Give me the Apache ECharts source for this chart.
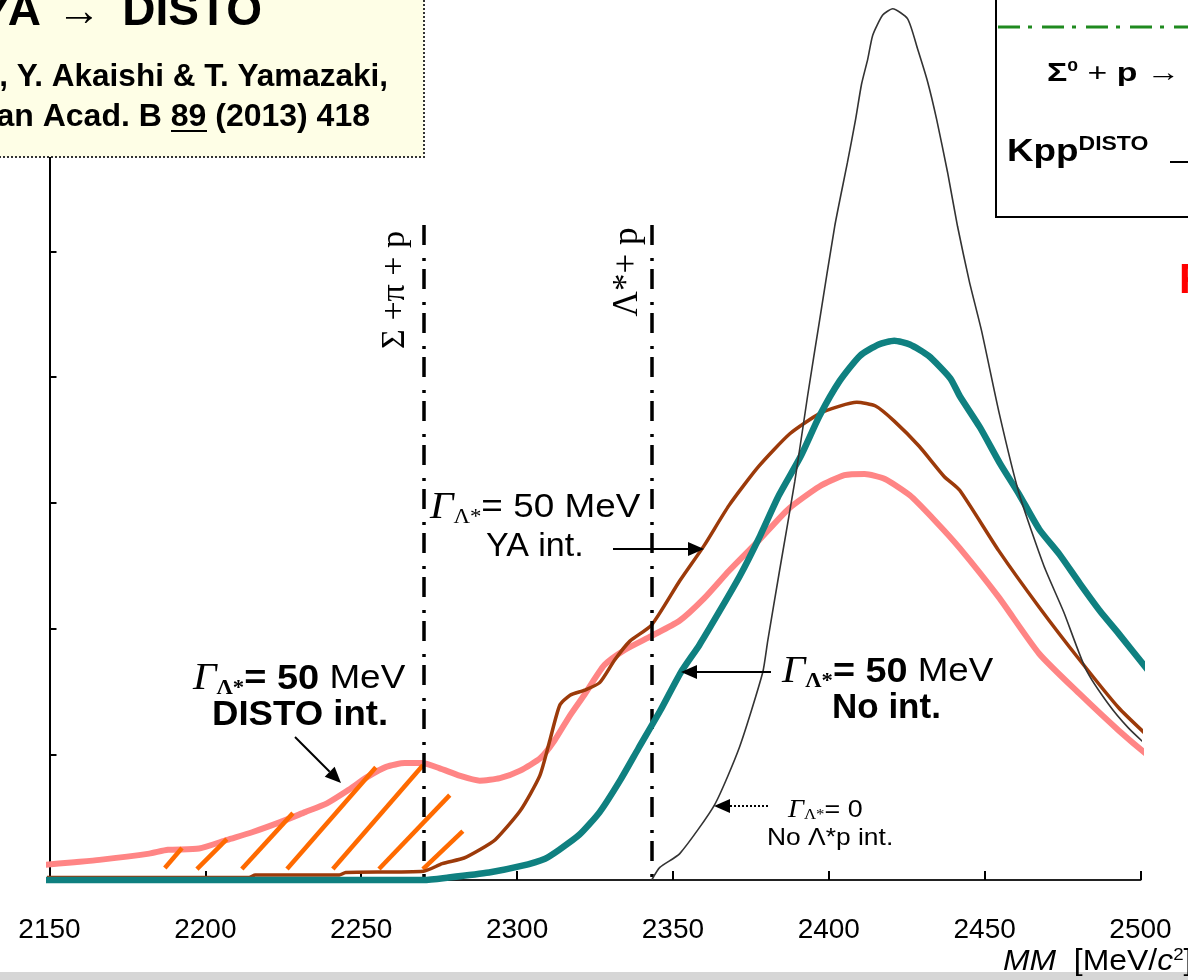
<!DOCTYPE html>
<html>
<head>
<meta charset="utf-8">
<script src="https://cdn.jsdelivr.net/npm/echarts@6/dist/echarts.min.js"></script>
<style>
  html, body { margin: 0; padding: 0; background: #ffffff; }
  #chart { width: 1188px; height: 980px; }
</style>
</head>
<body>
<div id="chart"></div>
<script>
// Missing-mass axis (MeV/c^2)
const massMin = 2150;
const massMax = 2500;
const massStep = 50;

// Spectra: [missing mass, yield (arb. units)]
// Gamma(Lambda*) = 50 MeV, DISTO interaction
const distoIntCurve = [
  [2148.5, 0.12], [2157, 0.14], [2166, 0.16], [2182, 0.21], [2188, 0.24], [2198, 0.25],
  [2207, 0.32], [2215, 0.38], [2224, 0.46], [2232, 0.54], [2239, 0.61], [2245.5, 0.71],
  [2252, 0.82], [2258, 0.90], [2264, 0.93], [2269.5, 0.93], [2275, 0.89], [2281.5, 0.83],
  [2288, 0.79], [2294.5, 0.81], [2301, 0.87], [2307.5, 0.97], [2312, 1.11], [2317, 1.31],
  [2321.5, 1.47], [2328, 1.71], [2334.5, 1.83], [2343, 1.94], [2352, 2.06], [2360, 2.24],
  [2368, 2.46], [2377.5, 2.70], [2387, 2.95], [2397, 3.13], [2405, 3.22], [2411.5, 3.23],
  [2418, 3.19], [2426, 3.06], [2434, 2.86], [2442, 2.64], [2454.5, 2.25], [2467.5, 1.80],
  [2480.5, 1.48], [2493, 1.19], [2503, 0.98]
];

// Gamma(Lambda*) = 50 MeV, YA interaction
const yaIntCurve = [
  [2148.5, 0.02], [2214, 0.02], [2216, 0.04], [2243, 0.04], [2245, 0.06], [2270, 0.07],
  [2276, 0.13], [2283, 0.175], [2288, 0.24], [2293, 0.32], [2301, 0.55], [2307.3, 0.83],
  [2310.5, 1.11], [2313.7, 1.39], [2317, 1.47], [2321.7, 1.51], [2326.5, 1.57], [2331.3, 1.75],
  [2336.2, 1.90], [2343.2, 2.03], [2352.2, 2.38], [2360, 2.66], [2368, 2.98], [2377.5, 3.29],
  [2387.5, 3.55], [2397, 3.71], [2403.5, 3.77], [2409, 3.80], [2415, 3.77], [2421, 3.65],
  [2429, 3.45], [2437, 3.21], [2442, 3.10], [2454.5, 2.62], [2467.5, 2.17], [2480.5, 1.75],
  [2493, 1.37], [2503, 1.13]
];

// Gamma(Lambda*) = 50 MeV, no interaction
const noIntCurve = [
  [2148.5, 0], [2270, 0], [2278, 0.02], [2291, 0.06], [2301, 0.11], [2309, 0.17],
  [2313.5, 0.24], [2320, 0.36], [2326.5, 0.54], [2333, 0.79], [2339, 1.05], [2346, 1.35],
  [2352.5, 1.65], [2358.5, 1.87], [2365, 2.14], [2371.5, 2.42], [2378, 2.74], [2384, 3.06],
  [2391, 3.37], [2397, 3.69], [2403.5, 3.97], [2410, 4.17], [2416, 4.26], [2421, 4.29],
  [2426, 4.26], [2432, 4.17], [2439, 3.99], [2442, 3.85], [2448.5, 3.60], [2455, 3.31],
  [2461, 3.07], [2467.5, 2.79], [2474, 2.59], [2480.5, 2.36], [2487, 2.14], [2493, 1.96],
  [2503, 1.65]
];

// Gamma(Lambda*) = 0, no Lambda*p interaction
const zeroWidthCurve = [
  [2343.2, 0], [2345.8, 0.10], [2352.2, 0.21], [2363.4, 0.60], [2371.4, 1.06], [2378.8, 1.65],
  [2380.4, 1.90], [2384.2, 2.46], [2389.1, 3.17], [2393.2, 3.85], [2397.1, 4.46], [2401.9, 5.20],
  [2406.0, 5.71], [2408.6, 6.05], [2410.5, 6.33], [2412.5, 6.53], [2414.1, 6.72], [2417.3, 6.88],
  [2420.5, 6.93], [2425.3, 6.85], [2428.5, 6.61], [2431.7, 6.35], [2434.6, 6.05], [2438.1, 5.63],
  [2441.3, 5.20], [2445.1, 4.76], [2449.0, 4.37], [2454.7, 3.71], [2461.1, 3.07], [2469.0, 2.50],
  [2475.4, 2.13], [2482.4, 1.68], [2489.7, 1.40], [2496.1, 1.21], [2502.9, 1.05]
];

// Orange hatching below the DISTO-int. shoulder: [m1, y1, m2, y2]
const hatchSegments = [
  [2187.0, 0.095, 2192.5, 0.254],
  [2197.3, 0.087, 2206.9, 0.325],
  [2211.7, 0.087, 2228.1, 0.532],
  [2226.2, 0.087, 2254.7, 0.897],
  [2240.9, 0.087, 2269.8, 0.913],
  [2255.7, 0.087, 2278.4, 0.675],
  [2269.8, 0.087, 2282.6, 0.389]
];

// Thresholds: Sigma + pi + p and Lambda* + p
const thresholdMasses = [2270, 2343.2];
const thresholdTop = 5.21;

const SANS = 'Liberation Sans, Arial, sans-serif';
const SERIF = 'Liberation Serif, Times New Roman, serif';

function arrow(x1, y1, x2, y2, dotted) {
  const dx = x2 - x1, dy = y2 - y1, L = Math.hypot(dx, dy);
  const ux = dx / L, uy = dy / L, hl = 16, hw = 7;
  const bx = x2 - ux * hl, by = y2 - uy * hl;
  return [
    { type: 'line', z: 120, silent: true,
      shape: { x1: x1, y1: y1, x2: bx, y2: by },
      style: { stroke: '#000', lineWidth: 2, lineDash: dotted ? [2, 2] : null } },
    { type: 'polygon', z: 120, silent: true,
      shape: { points: [[x2, y2], [bx - uy * hw, by + ux * hw], [bx + uy * hw, by - ux * hw]] },
      style: { fill: '#000' } }
  ];
}

const annRich = {
  G: { fontFamily: SERIF, fontStyle: 'italic', fontSize: 38, lineHeight: 40, fill: '#000' },
  s: { fontFamily: SERIF, fontSize: 21, lineHeight: 10, verticalAlign: 'bottom', fill: '#000' },
  sb: { fontFamily: SERIF, fontWeight: 'bold', fontSize: 21, lineHeight: 10, verticalAlign: 'bottom', fill: '#000' },
  t: { fontFamily: SANS, fontSize: 34, lineHeight: 40, fill: '#000' },
  tb: { fontFamily: SANS, fontWeight: 'bold', fontSize: 35, lineHeight: 40, fill: '#000' },
  g: { fontFamily: SERIF, fontStyle: 'italic', fontSize: 25, lineHeight: 26, fill: '#000' },
  ss: { fontFamily: SERIF, fontSize: 15, lineHeight: 6, verticalAlign: 'bottom', fill: '#000' },
  u: { fontFamily: SANS, fontSize: 24, lineHeight: 26, fill: '#000' }
};

function richText(x, y, text, sx) {
  return {
    type: 'text', z: 120, silent: true, x: x, y: y, scaleX: sx || 1,
    style: { text: text, rich: annRich, align: 'left', verticalAlign: 'middle',
             textAlign: 'left', textVerticalAlign: 'middle' }
  };
}

function plainText(x, y, text, font, align, extra) {
  return Object.assign({
    type: 'text', z: 120, silent: true, x: x, y: y,
    style: Object.assign({ text: text, fill: '#000', align: align, verticalAlign: 'middle',
                           textAlign: align, textVerticalAlign: 'middle' }, font)
  }, extra || {});
}

const boldSans = (size) => ({ fontFamily: SANS, fontWeight: 'bold', fontSize: size });

const graphics = [
  // reference box, top left
  { type: 'rect', z: 110, silent: true, shape: { x: -6, y: -6, width: 430, height: 163 },
    style: { fill: '#fefee6', stroke: '#333', lineWidth: 2, lineDash: [2, 2] } },
  plainText(41, 12, 'YA', boldSans(46), 'right'),
  plainText(79, 13, '\u2192', boldSans(44), 'center'),
  plainText(262, 12, 'DISTO', boldSans(46), 'right'),
  plainText(388, 77, 'M. Hassanvand, Y. Akaishi & T. Yamazaki,', boldSans(31.5), 'right'),
  plainText(370, 117, 'Proc. Japan Acad. B 89 (2013) 418', boldSans(32), 'right'),
  { type: 'line', z: 120, silent: true, shape: { x1: 171, y1: 131, x2: 207, y2: 131 }, style: { stroke: '#000', lineWidth: 2 } },

  // legend box, top right
  { type: 'rect', z: 110, silent: true, shape: { x: 996, y: -6, width: 220, height: 223 },
    style: { fill: '#ffffff', stroke: '#000', lineWidth: 2 } },
  { type: 'line', z: 120, silent: true, shape: { x1: 998, y1: 27, x2: 1190, y2: 27 },
    style: { stroke: '#1f8a1f', lineWidth: 3, lineDash: [22, 8, 4, 10] } },
  { type: 'text', z: 120, silent: true, x: 1047, y: 74, scaleX: 1.3,
    style: { text: '{b|\u03a3}{sup|0}{n| + }{b|p}{n| \u2192}', align: 'left', verticalAlign: 'middle',
      rich: {
        b: { fontFamily: SANS, fontWeight: 'bold', fontSize: 26, lineHeight: 30, fill: '#000' },
        sup: { fontFamily: SANS, fontWeight: 'bold', fontSize: 15, lineHeight: 8, verticalAlign: 'top', fill: '#000' },
        n: { fontFamily: SANS, fontSize: 26, lineHeight: 30, fill: '#000' }
      } } },
  { type: 'text', z: 120, silent: true, x: 1007, y: 152, scaleX: 1.15,
    style: { text: '{k|Kpp}{d|DISTO}', align: 'left', verticalAlign: 'middle',
      rich: {
        k: { fontFamily: SANS, fontWeight: 'bold', fontSize: 32, lineHeight: 36, fill: '#000' },
        d: { fontFamily: SANS, fontWeight: 'bold', fontSize: 20, lineHeight: 18, verticalAlign: 'top', fill: '#000' }
      } } },
  { type: 'line', z: 120, silent: true, shape: { x1: 1170, y1: 162, x2: 1190, y2: 162 }, style: { stroke: '#000', lineWidth: 2 } },
  plainText(1179, 281, 'F', { fontFamily: SANS, fontWeight: 'bold', fontSize: 42, fill: '#ff0000' }, 'left'),

  // threshold labels
  plainText(395, 290, '\u03a3 +\u03c0 + p', { fontFamily: SERIF, fontSize: 34 }, 'center', { rotation: Math.PI / 2 }),
  plainText(628, 272, '\u039b*+ p', { fontFamily: SERIF, fontSize: 35 }, 'center', { rotation: Math.PI / 2 }),

  // curve annotations
  richText(430, 508, '{G|\u0393}{s|\u039b*}{t|= 50 MeV}', 1.085),
  richText(486, 547, '{t|YA int.}'),
  richText(193, 679, '{G|\u0393}{sb|\u039b*}{tb|= 50}{t| MeV}', 1.085),
  richText(212, 715, '{tb|DISTO int.}', 1.045),
  richText(782, 672, '{G|\u0393}{sb|\u039b*}{tb|= 50}{t| MeV}', 1.08),
  richText(832, 708, '{tb|No int.}'),
  richText(788, 810, '{g|\u0393}{ss|\u039b*}{u|= 0}', 1.12),
  richText(767, 838, '{u|No \u039b*p int.}', 1.1),

  // axis title
  { type: 'text', z: 120, silent: true, x: 1003, y: 962, scaleX: 1.1,
    style: { text: '{i|MM}{r|  [MeV/}{i|c}{p|2}{r|]}', align: 'left', verticalAlign: 'middle',
      rich: {
        i: { fontFamily: SANS, fontStyle: 'italic', fontSize: 29, lineHeight: 30, fill: '#000' },
        r: { fontFamily: SANS, fontSize: 29, lineHeight: 30, fill: '#000' },
        p: { fontFamily: SANS, fontSize: 17, lineHeight: 10, verticalAlign: 'top', fill: '#000' }
      } } },
  // bottom band
  { type: 'rect', z: 100, silent: true, shape: { x: 0, y: 972, width: 1188, height: 9 }, style: { fill: '#d6d6d6' } }
]
  .concat(arrow(613, 549, 704, 549, false))
  .concat(arrow(295, 737, 341, 783, false))
  .concat(arrow(771, 672, 681, 672, false))
  .concat(arrow(768, 806, 714, 806, true));

const chart = echarts.init(document.getElementById('chart'), null, { renderer: 'canvas' });

chart.setOption({
  animation: false,
  backgroundColor: '#ffffff',
  grid: { left: 49.5, right: 47.5, top: -5, bottom: 100, containLabel: false },
  xAxis: {
    type: 'value', min: massMin, max: massMax, interval: massStep,
    axisLine: { onZero: true, lineStyle: { color: '#222', width: 2 } },
    axisTick: { show: true, inside: true, length: 9, lineStyle: { color: '#000', width: 2 } },
    axisLabel: { color: '#000', fontFamily: SANS, fontSize: 28, margin: 36, formatter: v => String(v) },
    splitLine: { show: false }
  },
  yAxis: {
    type: 'value', min: 0, max: 7, interval: 1,
    axisLine: { show: true, lineStyle: { color: '#000', width: 2 } },
    axisTick: { show: true, inside: true, length: 7, lineStyle: { color: '#000', width: 2 } },
    axisLabel: { show: false },
    splitLine: { show: false }
  },
  series: [
    {
      name: 'DISTO int.', type: 'line', data: distoIntCurve, symbol: 'none', clip: false, smooth: 0.2, z: 2,
      lineStyle: { color: '#ff8585', width: 6 }
    },
    {
      name: 'hatch', type: 'lines', coordinateSystem: 'cartesian2d', silent: true, z: 3,
      lineStyle: { color: '#ff6a00', width: 4.5, opacity: 1, curveness: 0 },
      data: hatchSegments.map(s => ({ coords: [[s[0], s[1]], [s[2], s[3]]] }))
    },
    {
      name: 'YA int.', type: 'line', data: yaIntCurve, symbol: 'none', clip: false, smooth: 0.2, z: 4,
      lineStyle: { color: '#9c3a0a', width: 3.5 }
    },
    {
      name: 'No int.', type: 'line', data: noIntCurve, symbol: 'none', clip: false, smooth: 0.2, z: 5,
      lineStyle: { color: '#0f8080', width: 6.5 },
      markLine: {
        silent: true, symbol: ['none', 'none'], label: { show: false },
        lineStyle: { color: '#000', width: 3.5, type: [20, 13, 3, 8] },
        data: thresholdMasses.map(m => [{ coord: [m, thresholdTop] }, { coord: [m, 0] }])
      }
    },
    {
      name: 'Gamma 0', type: 'line', data: zeroWidthCurve, symbol: 'none', clip: false, smooth: 0.2, z: 6,
      lineStyle: { color: '#333333', width: 1.6 }
    }
  ],
  graphic: graphics
});
</script>
</body>
</html>
